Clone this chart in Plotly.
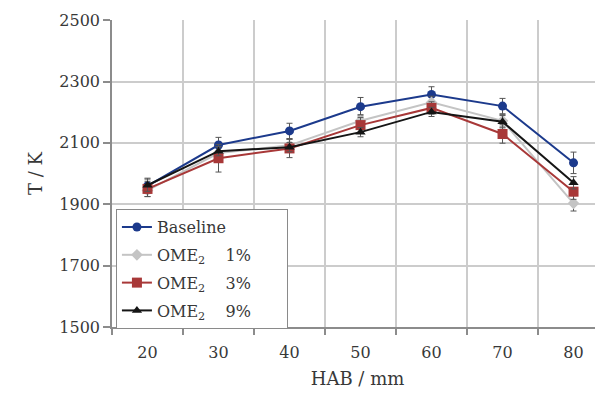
import plotly.graph_objects as go

hab = [20, 30, 40, 50, 60, 70, 80]
tick_labels = ["20", "30", "40", "50", "60", "70", "80"]

baseline = [1960, 2093, 2139, 2218, 2258, 2220, 2035]
ome1 = [1945, 2067, 2092, 2172, 2232, 2172, 1903]
ome3 = [1950, 2050, 2082, 2158, 2214, 2129, 1941]
ome9 = [1962, 2073, 2086, 2135, 2201, 2169, 1970]

err_baseline = [25, 25, 25, 30, 25, 25, 35]
err_ome1 = [20, 20, 20, 20, 20, 20, 25]
err_ome3 = [25, 45, 30, 25, 20, 30, 25]
err_ome9 = [20, 15, 15, 15, 15, 20, 20]

PAD = "\u00a0" * 6
names = ["Baseline",
         "OME<sub>2</sub>\u00a0\u00a0\u00a0 1%" + PAD,
         "OME<sub>2</sub>\u00a0\u00a0\u00a0 3%" + PAD,
         "OME<sub>2</sub>\u00a0\u00a0\u00a0 9%" + PAD]
series = [baseline, ome1, ome3, ome9]
errors = [err_baseline, err_ome1, err_ome3, err_ome9]
colors = ["#1c3a8c", "#c4c4c4", "#a83838", "#151515"]
symbols = ["circle", "diamond", "square", "triangle-up"]
sizes = [9, 9, 10, 9]

FONT = "DejaVu Serif"
TXT = "#383838"

fig = go.Figure()
for i in range(4):
    fig.add_trace(go.Scatter(
        x=hab, y=series[i], name=names[i], mode="lines+markers",
        line=dict(color=colors[i], width=2),
        marker=dict(symbol=symbols[i], size=sizes[i], color=colors[i]),
        error_y=dict(type="data", array=errors[i], visible=True,
                     color="#555555", thickness=1, width=3),
        legendgroup="g%d" % i,
    ))

fig.update_layout(
    width=595, height=386,
    margin=dict(l=104, r=0, t=12, b=67, autoexpand=False),
    paper_bgcolor="white", plot_bgcolor="white",
    font=dict(family=FONT, size=16, color=TXT),
    showlegend=True,
    legend=dict(x=0.008, y=0.384, xanchor="left", yanchor="top",
                bordercolor="#8a8a8a", borderwidth=1, bgcolor="white",
                font=dict(family=FONT, size=16, color=TXT),
                tracegroupgap=4, traceorder="grouped", itemwidth=30),
    xaxis=dict(
        range=[15, 84.15], tickmode="array", tickvals=hab, ticktext=tick_labels,
        showgrid=False, ticks="", showline=True, linecolor="#8c8c8c", linewidth=1.5,
        zeroline=False, automargin=False, ticklabelstandoff=10,
        minor=dict(tickmode="array", tickvals=[15, 25, 35, 45, 55, 65, 75],
                   showgrid=True, gridcolor="#cccccc", gridwidth=1.5,
                   ticks="outside", ticklen=6, tickcolor="#8c8c8c", tickwidth=1.5),
        title=dict(text="HAB / mm", font=dict(family=FONT, size=18, color=TXT),
                   standoff=11),
        tickfont=dict(family=FONT, size=16, color=TXT),
    ),
    yaxis=dict(
        range=[1500, 2500.5], tickmode="array",
        tickvals=[1500, 1700, 1900, 2100, 2300, 2500],
        showgrid=True, gridcolor="#cccccc", gridwidth=1.5,
        ticks="outside", ticklen=7, tickcolor="#8c8c8c", tickwidth=1.5,
        showline=True, linecolor="#8c8c8c", linewidth=1.5, zeroline=False,
        automargin=False,
        title=dict(text="T / K", font=dict(family=FONT, size=18, color=TXT),
                   standoff=12),
        tickfont=dict(family=FONT, size=16, color=TXT),
    ),
)

fig.write_html("out.html")
